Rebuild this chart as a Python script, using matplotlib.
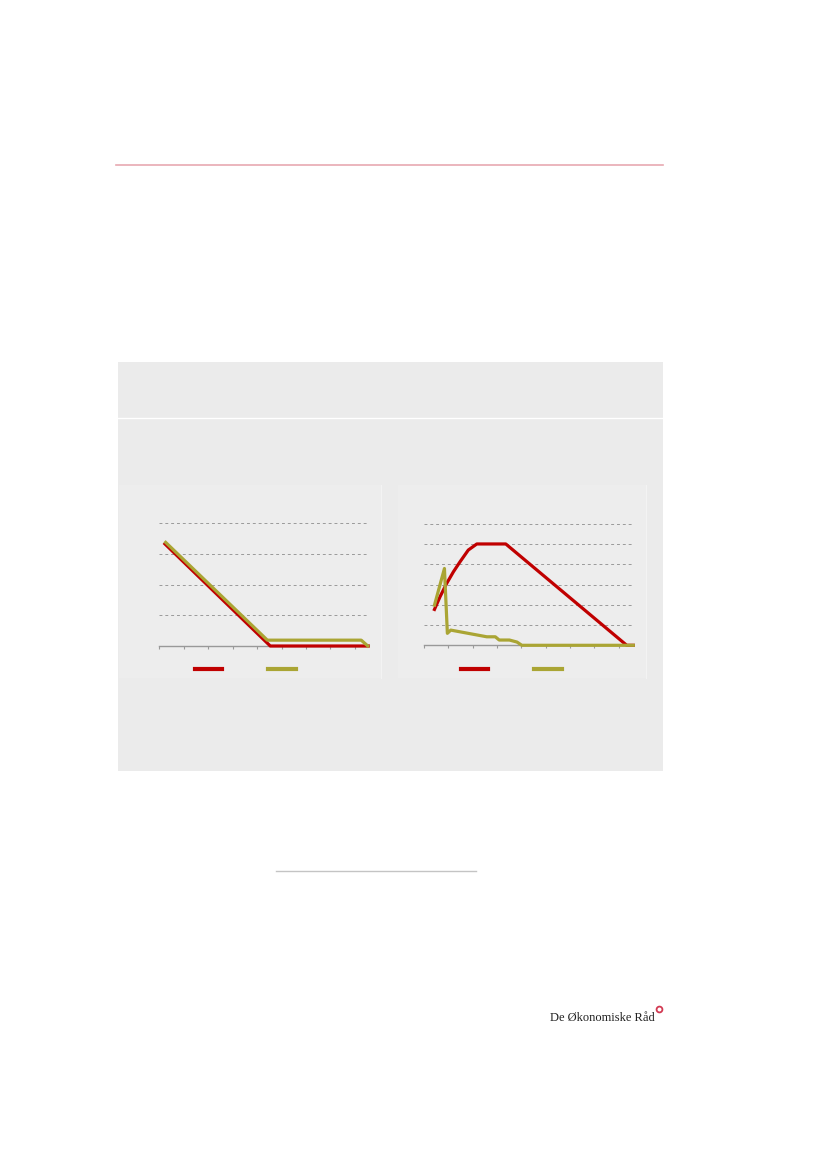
import matplotlib
matplotlib.use("Agg")
import matplotlib.pyplot as plt
from matplotlib.lines import Line2D
from matplotlib.patches import Rectangle

# farver
RED = "#c00000"
OLIVE = "#aaa534"
BOX = "#ebebeb"
PANEL = "#ededed"
GRID = "#9a9a9a"

# venstre figur: knaekpunkter (x i tick-enheder)
left_red_x = [0.23, 4.54, 8.55]
left_red_y = [3.32, 0.0, 0.0]
left_olive_x = [0.26, 4.42, 8.26, 8.53]
left_olive_y = [3.37, 0.19, 0.19, 0.0]
left_ticks = [0, 1, 2, 3, 4, 5, 6, 7, 8]
left_grid = [1, 2, 3, 4]

# hoejre figur
right_red_x = [0.43, 0.66, 0.93, 1.21, 1.48, 1.82, 2.17, 3.36, 8.33, 8.6]
right_red_y = [1.77, 2.4, 3.05, 3.63, 4.12, 4.7, 5.0, 5.0, 0.0, 0.0]
right_olive_x = [0.43, 0.84, 0.96, 1.10, 2.58, 2.93, 3.09, 3.51, 3.82, 4.02, 8.6]
right_olive_y = [1.98, 3.79, 0.59, 0.75, 0.42, 0.42, 0.26, 0.26, 0.16, 0.0, 0.0]
right_ticks = [0, 1, 2, 3, 4, 5, 6, 7, 8]
right_grid = [1, 2, 3, 4, 5, 6]

W, H = 827, 1169
fig = plt.figure(figsize=(8.27, 11.69), dpi=100)


def fx(px):
    return px / W


def fy(py):
    return 1 - py / H


# roed streg i toppen
fig.add_artist(Line2D([fx(116), fx(663)], [fy(165), fy(165)], color="#e8a9b1", lw=1.2))

# graa boks
fig.add_artist(Rectangle((fx(118), fy(771)), fx(663) - fx(118), fy(362) - fy(771),
                         facecolor=BOX, edgecolor="none", zorder=-3))
fig.add_artist(Line2D([fx(118), fx(663)], [fy(418.5), fy(418.5)], color="white", lw=1.0, zorder=-2))

# lidt lysere paneler bag figurerne
fig.add_artist(Rectangle((fx(119), fy(678)), fx(381) - fx(119), fy(485) - fy(678),
                         facecolor=PANEL, edgecolor="none", zorder=-2))
fig.add_artist(Line2D([fx(381), fx(381)], [fy(678), fy(485)], color="#f3f3f3", lw=0.8, zorder=-2))
fig.add_artist(Rectangle((fx(398), fy(678)), fx(646) - fx(398), fy(485) - fy(678),
                         facecolor=PANEL, edgecolor="none", zorder=-2))
fig.add_artist(Line2D([fx(646), fx(646)], [fy(678), fy(485)], color="#f3f3f3", lw=0.8, zorder=-2))


def setup(ax, ticks, grid, xmax, ymax):
    ax.set_facecolor("none")
    ax.set_xlim(0, xmax)
    ax.set_ylim(0, ymax)
    for s in ["top", "right", "left"]:
        ax.spines[s].set_visible(False)
    ax.spines["bottom"].set_color("#999999")
    ax.spines["bottom"].set_linewidth(1.0)
    ax.set_xticks(ticks)
    ax.set_xticklabels([])
    ax.tick_params(axis="x", direction="out", length=2.5, width=0.8, color="#999999")
    ax.set_yticks([])
    for g in grid:
        ax.axhline(g, color=GRID, lw=0.7, ls=(0, (3, 3)), zorder=1, clip_on=False)


ax1 = fig.add_axes([fx(159.3), fy(646), fx(368.3) - fx(159.3), fy(523) - fy(646)])
setup(ax1, left_ticks, left_grid, 8.55, 4)
ax1.plot(left_red_x, left_red_y, color=RED, lw=2.3, zorder=3, clip_on=False)
ax1.plot(left_olive_x, left_olive_y, color=OLIVE, lw=2.3, zorder=4, clip_on=False)

ax2 = fig.add_axes([fx(424), fy(645.3), fx(633.3) - fx(424), fy(523.7) - fy(645.3)])
setup(ax2, right_ticks, right_grid, 8.6, 6)
ax2.plot(right_red_x, right_red_y, color=RED, lw=2.3, zorder=3, clip_on=False)
ax2.plot(right_olive_x, right_olive_y, color=OLIVE, lw=2.3, zorder=4, clip_on=False)

# legender (teksten mangler i originalen)
handles = [Line2D([], [], color=RED, lw=3), Line2D([], [], color=OLIVE, lw=3)]
for cx in [248, 514]:
    fig.legend(handles, ["", ""], loc="center", bbox_to_anchor=(fx(cx), fy(670)),
               ncol=2, frameon=False, fontsize=8, handlelength=2.5,
               handletextpad=0.5, columnspacing=3.6)

# tynd streg under boksen
fig.add_artist(Line2D([fx(276), fx(476)], [fy(871), fy(871)], color="#c4c4c4", lw=1.0))

# logo
fig.text(fx(655), fy(1021), "De Økonomiske Råd", ha="right", va="baseline",
         fontsize=9, family="Liberation Serif", color="#222222")
fig.add_artist(Line2D([fx(659)], [fy(1008.5)], marker="o", markersize=4.2,
                      markerfacecolor="none", markeredgecolor="#d23a52", markeredgewidth=1.3))

fig.savefig("out.png", dpi=100)
